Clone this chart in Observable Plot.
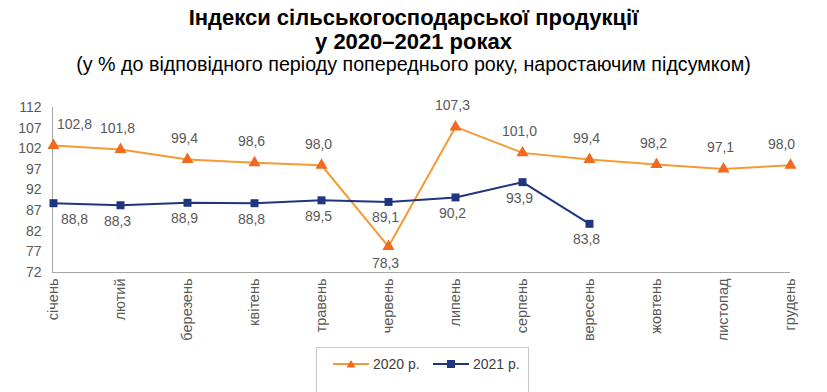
<!DOCTYPE html>
<html><head><meta charset="utf-8">
<script src="https://cdn.jsdelivr.net/npm/d3@7"></script>
<script src="https://cdn.jsdelivr.net/npm/@observablehq/plot@0.6"></script>
<style>
body{margin:0;background:#fff;font-family:"Liberation Sans",Arial,sans-serif;}
#wrap{position:relative;width:827px;height:392px;overflow:hidden;}
.t{position:absolute;left:0;width:827px;text-align:center;color:#000;}
#legend{position:absolute;left:316px;top:347px;width:213px;height:60px;border:1px solid #c8c8c8;box-sizing:border-box;font-size:14px;color:#404040;}
.li{position:absolute;top:8px;display:flex;align-items:center;}
</style></head>
<body><div id="wrap">
<div class="t" style="top:6px;font-size:22px;font-weight:bold;line-height:24px;">Індекси сільськогосподарської продукції<br>у 2020–2021 роках</div>
<div class="t" style="top:53px;font-size:19.7px;line-height:22px;">(у % до відповідного періоду попереднього року, наростаючим підсумком)</div>
<div id="chart" style="position:absolute;left:0;top:90px;"></div>
<div id="legend"></div>
</div>
<script>
const months = ["січень","лютий","березень","квітень","травень","червень","липень","серпень","вересень","жовтень","листопад","грудень"];
const values2020 = [102.8,101.8,99.4,98.6,98.0,78.3,107.3,101.0,99.4,98.2,97.1,98.0];
const values2021 = [88.8,88.3,88.9,88.8,89.5,89.1,90.2,93.9,83.8];
const yTicks = [72,77,82,87,92,97,102,107,112];
const seriesNames = ["2020 р.","2021 р."];

const fmt = v => v.toFixed(1).replace(".", ",");
const last = months.length - 1;
// label horizontal nudge: keep edge labels inside the plot area, as the reference does
const nudge = i => i === 0 ? 21 : i === last ? -9 : -3;
const d2020 = values2020.map((v,i)=>({m:months[i], v, i, below: i < values2021.length && v < values2021[i]}));
const d2021 = values2021.map((v,i)=>({m:months[i], v, i}));

const c2020line = "#F39B34", c2020mark = "#F26A1F", c2021 = "#1F3580", labelC = "#595959";

const labels = (data, dy) => Plot.text(data, {
  x: "m", y: "v", text: d => fmt(d.v), dy, fill: labelC, fontSize: 14,
  render: (index, scales, values, dims, ctx, next) => {
    const g = next(index, scales, values, dims, ctx);
    d3.select(g).selectAll("text").each(function(_, k) {
      const d = data[index[k]];
      this.setAttribute("transform", `translate(${values.x[index[k]] + nudge(d.i)},${values.y[index[k]]})`);
    });
    return g;
  }
});

const chart = Plot.plot({
  width: 827, height: 250,
  marginLeft: 52, marginRight: 37, marginTop: 17, marginBottom: 68,
  style: {fontFamily: "'Liberation Sans', Arial, sans-serif", fontSize: "13px", color: "#595959", background: "transparent"},
  x: {type: "point", domain: months, label: null, padding: 0},
  y: {domain: [72,112], label: null},
  marks: [
    Plot.axisY({ticks: yTicks, tickSize: 0, tickPadding: 11, fontSize: 14, label: null, tickFormat: d => String(d)}),
    Plot.axisX({tickSize: 0, tickRotate: -90, tickPadding: 6, fontSize: 14.5, label: null}),
    Plot.ruleX([months[0]], {y1: 72, y2: 112, stroke: "#a6a6a6", dx: -1}),
    Plot.ruleY([72], {stroke: "#a6a6a6"}),
    Plot.line(d2020, {x: "m", y: "v", stroke: c2020line, strokeWidth: 2}),
    Plot.line(d2021, {x: "m", y: "v", stroke: c2021, strokeWidth: 2}),
    Plot.dot(d2020, {x: "m", y: "v", symbol: "triangle", fill: c2020mark, r: 4.5}),
    Plot.dot(d2021, {x: "m", y: "v", symbol: "square", fill: c2021, r: 4.5}),
    labels(d2020.filter(d=>!d.below), -21),
    labels(d2020.filter(d=>d.below), 17),
    labels(d2021, 16)
  ]
});
document.getElementById("chart").appendChild(chart);

const lg = document.getElementById("legend");
const sw = (color, line, sym) => `<svg width="36" height="12" style="margin-right:4px"><line x1="0" x2="36" y1="6" y2="6" stroke="${line}" stroke-width="2"/>${sym==="tri" ? `<path d="M18,2 L22.5,9.5 L13.5,9.5Z" fill="${color}"/>` : `<rect x="14" y="2" width="8" height="8" fill="${color}"/>`}</svg>`;
lg.innerHTML = `<div class="li" style="left:16px">${sw(c2020mark,c2020line,"tri")}${seriesNames[0]}</div><div class="li" style="left:116px">${sw(c2021,c2021,"sq")}${seriesNames[1]}</div>`;
</script>
</body></html>
